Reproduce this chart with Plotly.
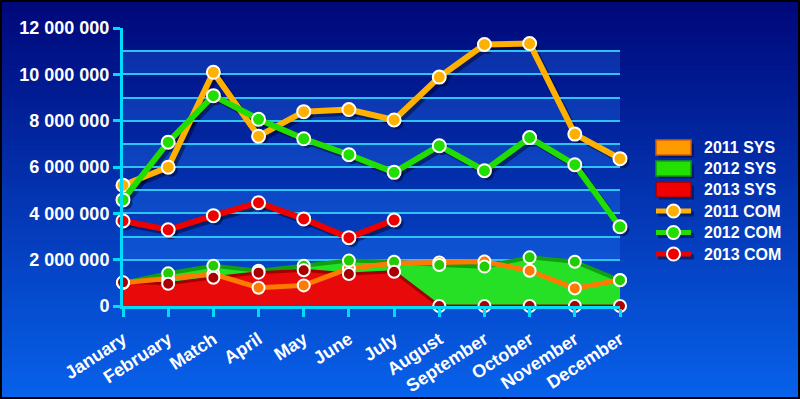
import plotly.graph_objects as go

months = ["January", "February", "Match", "April", "May", "June", "July",
          "August", "September", "October", "November", "December"]

sys_2011 = [1000000, 1170000, 1380000, 790000, 890000, 1620000, 1850000,
            1880000, 1920000, 1520000, 760000, 1120000]
sys_2012 = [1000000, 1410000, 1740000, 1520000, 1740000, 1960000, 1910000,
            1770000, 1700000, 2100000, 1910000, 1110000]
sys_2013 = [1020000, 960000, 1220000, 1440000, 1540000, 1380000, 1480000,
            0, 0, 0, 0, 0]

com_2011 = [5210000, 5990000, 10090000, 7330000, 8390000, 8480000, 8030000,
            9880000, 11290000, 11330000, 7420000, 6360000]
com_2012 = [4580000, 7070000, 9080000, 8060000, 7220000, 6530000, 5770000,
            6920000, 5840000, 7270000, 6100000, 3420000]
com_2013 = [3670000, 3290000, 3900000, 4460000, 3760000, 2950000, 3710000,
            None, None, None, None, None]

legend_names = ["2011 SYS", "2012 SYS", "2013 SYS", "2011 COM", "2012 COM", "2013 COM"]

W, H = 800, 399
ML, MR, MT, MB = 123, 177, 28, 90
PW, PH = W - ML - MR, H - MT - MB
OFF = 3  # shadow offset in px

fig = go.Figure()


def py(p):
    return (H - MB - p) / PH


def px(p):
    return (p - ML) / PW


shapes = []
annotations = []
top = (0, 8, 122)
bot = (8, 98, 235)
N = 80
for i in range(N):
    t = i / (N - 1)
    c = tuple(int(top[k] + (bot[k] - top[k]) * t) for k in range(3))
    y0 = H * i / N
    y1 = H * (i + 1) / N + 1
    shapes.append(dict(type="rect", xref="paper", yref="paper", layer="below",
                       x0=px(-2), x1=px(W + 2),
                       y0=py(y1), y1=py(y0 - (2 if i == 0 else 0)),
                       line=dict(width=0), fillcolor="rgb(%d,%d,%d)" % c))
# lighter bands inside plot
for k in range(0, 12, 2):
    shapes.append(dict(type="rect", xref="x2 domain", yref="y2", layer="below",
                       x0=0, x1=1, y0=k * 1e6, y1=(k + 1) * 1e6,
                       line=dict(width=0), fillcolor="rgba(40,130,255,0.28)"))
# frame
shapes.append(dict(type="rect", xref="paper", yref="paper", layer="above",
                   x0=px(1), x1=px(W - 1), y0=py(H - 1), y1=py(1),
                   line=dict(width=2, color="#000000"), fillcolor="rgba(0,0,0,0)"))

# manual legend
leg_y = [147.5, 168.5, 189.5, 211, 232.5, 254]
sys_fill = [("#ff9a00", "#d85a00"), ("#22e000", "#109a10"), ("#f00000", "#a00000")]
com_col = ["#ffb000", "#22dd00", "#ee0000"]
for i, name in enumerate(legend_names):
    yc = leg_y[i]
    if i < 3:
        f, l = sys_fill[i]
        shapes.append(dict(type="rect", xref="paper", yref="paper", layer="above",
                           x0=px(659), x1=px(694), y0=py(yc + 10), y1=py(yc - 4),
                           line=dict(width=0), fillcolor="rgba(0,0,30,0.45)"))
        shapes.append(dict(type="rect", xref="paper", yref="paper", layer="above",
                           x0=px(656), x1=px(691), y0=py(yc + 7.5), y1=py(yc - 7.5),
                           line=dict(width=1.5, color=l), fillcolor=f))
    else:
        c = com_col[i - 3]
        shapes.append(dict(type="line", xref="paper", yref="paper", layer="above",
                           x0=px(658), x1=px(694), y0=py(yc + 3), y1=py(yc + 3),
                           line=dict(width=5, color="rgba(0,0,30,0.45)")))
        shapes.append(dict(type="line", xref="paper", yref="paper", layer="above",
                           x0=px(656), x1=px(691), y0=py(yc), y1=py(yc),
                           line=dict(width=5, color=c)))
        shapes.append(dict(type="circle", xref="paper", yref="paper", layer="above",
                           x0=px(667), x1=px(680), y0=py(yc + 6.5), y1=py(yc - 6.5),
                           line=dict(width=2, color="white"), fillcolor=c))
    annotations.append(dict(xref="paper", yref="paper", x=px(702), y=py(yc),
                            xanchor="left", yanchor="middle", showarrow=False,
                            text=name, font=dict(size=16, color="white", weight="bold")))

shadow = "rgba(0,0,25,0.45)"
# shadows of COM lines (on shifted, hidden axes x/y; drawn first)
for ys in (com_2011, com_2012, com_2013):
    fig.add_trace(go.Scatter(x=months, y=ys, mode="lines+markers", xaxis="x", yaxis="y",
                             line=dict(color=shadow, width=6),
                             marker=dict(size=13, color=shadow),
                             showlegend=False, hoverinfo="skip", cliponaxis=False))

XA, YA = "x2", "y2"
# SYS areas
fig.add_trace(go.Scatter(x=months, y=sys_2011, name="2011 SYS", mode="lines", fill="tozeroy",
                         xaxis=XA, yaxis=YA,
                         fillcolor="#ff8c00", line=dict(color="#d85a00", width=2),
                         cliponaxis=False))
fig.add_trace(go.Scatter(x=months, y=sys_2012, name="2012 SYS", mode="lines", fill="tozeroy",
                         xaxis=XA, yaxis=YA,
                         fillcolor="#26e026", line=dict(color="#10a010", width=4),
                         cliponaxis=False))
fig.add_trace(go.Scatter(x=months, y=sys_2013, name="2013 SYS", mode="lines", fill="tozeroy",
                         xaxis=XA, yaxis=YA,
                         fillcolor="#e80a0a", line=dict(color="#a00000", width=3),
                         cliponaxis=False))
# SYS lines/markers on top
fig.add_trace(go.Scatter(x=months, y=sys_2011, mode="lines+markers", name="2011 SYS",
                         xaxis=XA, yaxis=YA,
                         line=dict(color="#ff7a00", width=5),
                         marker=dict(size=12, color="#ff7a00", line=dict(color="white", width=2)),
                         cliponaxis=False))
fig.add_trace(go.Scatter(x=months, y=sys_2012, mode="markers", name="2012 SYS",
                         xaxis=XA, yaxis=YA,
                         marker=dict(size=12, color="#22cc00", line=dict(color="white", width=2)),
                         cliponaxis=False))
fig.add_trace(go.Scatter(x=months, y=sys_2013, mode="markers", name="2013 SYS",
                         xaxis=XA, yaxis=YA,
                         marker=dict(size=12, color="#a80000", line=dict(color="white", width=2)),
                         cliponaxis=False))

# COM lines
for name, ys, col in (("2011 COM", com_2011, "#ffb000"),
                      ("2012 COM", com_2012, "#22dd00"),
                      ("2013 COM", com_2013, "#ee0000")):
    fig.add_trace(go.Scatter(x=months, y=ys, name=name, mode="lines+markers",
                             xaxis=XA, yaxis=YA,
                             line=dict(color=col, width=6),
                             marker=dict(size=13, color=col, line=dict(color="white", width=2)),
                             cliponaxis=False))

axis_col = "#00dcff"
grid_col = "#2ec3f5"
FONT = "Liberation Sans, Arial, sans-serif"
fig.update_layout(
    width=W, height=H,
    margin=dict(l=ML, r=MR, t=MT, b=MB, pad=0, autoexpand=False),
    paper_bgcolor="#0a3aa8",
    plot_bgcolor="rgba(0,0,0,0)",
    separators=". ",
    font=dict(family=FONT, color="white"),
    shapes=shapes,
    annotations=annotations,
    showlegend=False,
    # hidden shadow axes (shifted right/down)
    xaxis=dict(domain=[OFF / PW, 1], range=[0, 11], type="category", visible=False,
               anchor="y", automargin=False),
    yaxis=dict(domain=[0, (PH - OFF) / PH], range=[0, 12e6], visible=False, anchor="x",
               automargin=False),
    # visible axes
    xaxis2=dict(domain=[0, (PW - OFF) / PW], range=[0, 11], type="category", anchor="y2",
                automargin=False,
                showline=True, linecolor=axis_col, linewidth=3,
                ticks="outside", ticklen=8, tickwidth=3, tickcolor=axis_col,
                showgrid=False, zeroline=False, tickangle=-33, ticklabelstandoff=5,
                tickfont=dict(size=18, color="white", weight="bold")),
    yaxis2=dict(domain=[OFF / PH, 1], range=[0, 12e6], dtick=2e6, tickformat=",d", anchor="x2",
                automargin=False,
                showline=True, linecolor=axis_col, linewidth=3,
                ticks="outside", ticklen=7, tickwidth=3, tickcolor=axis_col,
                showgrid=True, gridcolor=grid_col, gridwidth=2, zeroline=False,
                minor=dict(dtick=1e6, showgrid=True, gridcolor=grid_col, gridwidth=2),
                tickfont=dict(size=18, color="white", weight="bold")),
)

fig.write_html("out.html", config={"displayModeBar": False},
               post_script="document.body.style.margin='0';document.body.style.overflow='hidden';")
